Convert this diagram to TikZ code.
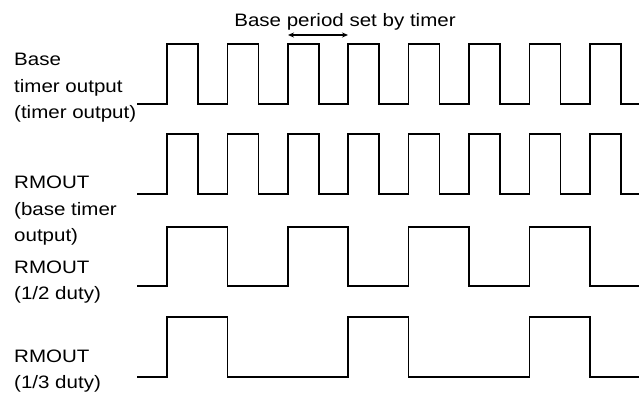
\documentclass[tikz,border=0pt]{standalone}
\usepackage{fontspec}
\setmainfont{Liberation Sans}[FakeStretch=1.14]
\usetikzlibrary{arrows.meta}

\begin{document}
\begin{tikzpicture}[x=1pt, y=-1pt,
    wave/.style={line width=1.6pt, line join=miter},
    lbl/.style={anchor=west, align=left, inner sep=0pt,
      font=\fontsize{18}{26.5}\selectfont}]
  \useasboundingbox (0,0) rectangle (639,396);
  % --- Titre et periode de base ---
  \node[font=\fontsize{18}{22}\selectfont] (title) at (345,22) {Base period set by timer};
  \coordinate (pA) at (288,35);
  \coordinate (pB) at (348,35);
  \draw[{Stealth[length=6pt,width=5pt]}-{Stealth[length=6pt,width=5pt]}, line width=1.4pt] (pA) -- (pB);
  % --- Etiquettes ---
  \node[lbl] (base) at (14,88) {Base\\timer output\\(timer output)};
  \node[lbl] (rmbase) at (14,211) {RMOUT\\(base timer\\output)};
  \node[lbl] (rmhalf) at (14,282) {RMOUT\\(1/2 duty)};
  \node[lbl] (rmthird) at (14,371) {RMOUT\\(1/3 duty)};
  % --- Sortie timer de base ---
  \draw[wave] (137,104) \foreach \k in {0,...,7} {
    -- ({167+60.4*\k},104) -- ({167+60.4*\k},44) -- ({198+60.4*\k},44) -- ({198+60.4*\k},104)
  } -- (640,104);
  % --- RMOUT (sortie timer de base) ---
  \draw[wave] (137,194) \foreach \k in {0,...,7} {
    -- ({167+60.4*\k},194) -- ({167+60.4*\k},134) -- ({198+60.4*\k},134) -- ({198+60.4*\k},194)
  } -- (640,194);
  % --- RMOUT 1/2 duty ---
  \draw[wave] (137,286) \foreach \k in {0,...,3} {
    -- ({167+120.8*\k},286) -- ({167+120.8*\k},227) -- ({227.4+120.8*\k},227) -- ({227.4+120.8*\k},286)
  } -- (640,286);
  % --- RMOUT 1/3 duty ---
  \draw[wave] (137,377) \foreach \k in {0,...,2} {
    -- ({167+181.2*\k},377) -- ({167+181.2*\k},317) -- ({227.4+181.2*\k},317) -- ({227.4+181.2*\k},377)
  } -- (640,377);
\end{tikzpicture}
\end{document}
